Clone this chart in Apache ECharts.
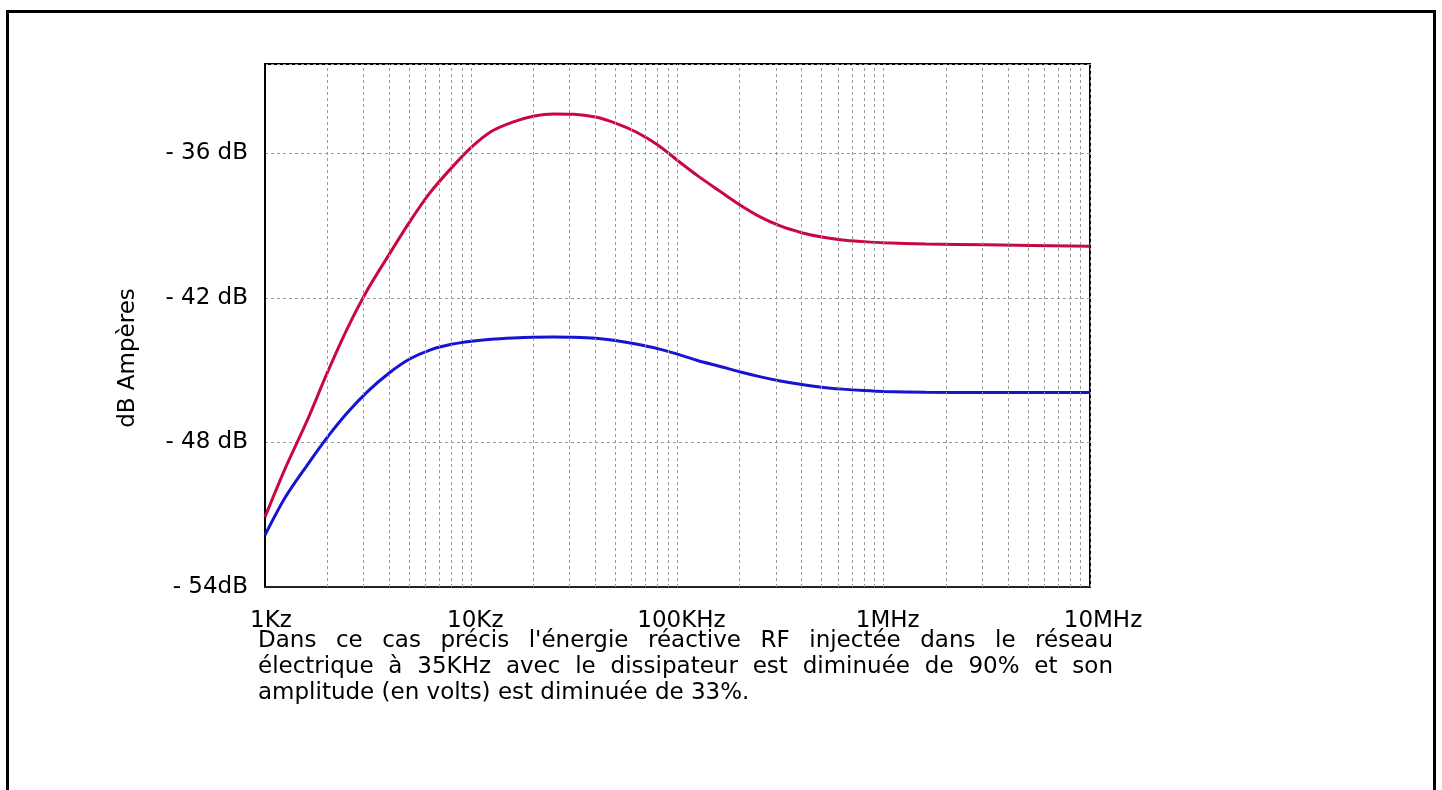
<!DOCTYPE html>
<html>
<head>
<meta charset="utf-8">
<script src="https://cdn.jsdelivr.net/npm/echarts@6/dist/echarts.min.js"></script>
<style>
  html, body { margin: 0; padding: 0; background: #fff; }
  #wrap { position: relative; width: 1442px; height: 790px; overflow: hidden; }
  #chart { position: absolute; left: 0; top: 0; width: 1442px; height: 790px; }
  #caption { position: absolute; left: 258px; top: 626px; width: 855px;
    font-family: 'DejaVu Sans', sans-serif; font-size: 23px; line-height: 26px; color: #000; }
  #caption .j { text-align: justify; text-align-last: justify; white-space: nowrap; }
  #caption .l { text-align: left; white-space: nowrap; }
</style>
</head>
<body>
<div id="wrap">
  <div id="chart"></div>
  <div id="caption"></div>
</div>
<script>
// ---- data ----
const xLabels = ['1Kz', '10Kz', '100KHz', '1MHz', '10MHz'];
const yTickValues = [-54, -48, -42, -36];
const yTickLabels = ['- 54dB', '- 48 dB', '- 42 dB', '- 36 dB'];
const yAxisTitle = 'dB Ampères';
const captionLines = [
  "Dans ce cas précis l'énergie réactive RF injectée dans le réseau",
  "électrique à 35KHz avec le dissipateur est diminuée de 90% et son",
  "amplitude (en volts) est diminuée de 33%."
];

// frequencies (Hz) at which the curves were read
const freqHz = [1000, 1250, 1600, 2000, 2500, 3150, 4000, 5000, 6300, 8000,
  10000, 12500, 16000, 20000, 25000, 31500, 40000, 50000, 63000, 80000,
  100000, 125000, 160000, 200000, 250000, 315000, 400000, 500000, 630000, 800000,
  1000000, 1600000, 3150000, 10000000];
// upper (crimson) curve, dB
const redDb = [-51.1, -49.1, -47.1, -45.13, -43.3, -41.65, -40.2, -38.88, -37.65, -36.62,
  -35.76, -35.1, -34.7, -34.47, -34.37, -34.38, -34.5, -34.75, -35.12, -35.65,
  -36.3, -36.93, -37.57, -38.14, -38.63, -39.02, -39.3, -39.48, -39.6, -39.67,
  -39.72, -39.77, -39.8, -39.86];
// lower (blue) curve, dB
const blueDb = [-51.85, -50.3, -48.95, -47.8, -46.78, -45.88, -45.12, -44.55, -44.17, -43.93,
  -43.8, -43.72, -43.67, -43.64, -43.63, -43.64, -43.68, -43.77, -43.92, -44.11,
  -44.34, -44.6, -44.84, -45.07, -45.27, -45.45, -45.6, -45.71, -45.79, -45.85,
  -45.89, -45.92, -45.93, -45.93];

// vertical grid lines of the log axis (2..10 in each decade)
const gridFreqs = [];
[1e3, 1e4, 1e5, 1e6].forEach(function (d) {
  for (let m = 2; m <= 10; m++) gridFreqs.push(d * m);
});

// ---- caption ----
const cap = document.getElementById('caption');
captionLines.forEach(function (t, i) {
  const d = document.createElement('div');
  d.className = i < captionLines.length - 1 ? 'j' : 'l';
  d.textContent = t;
  cap.appendChild(d);
});

// ---- chart ----
const FONT = 'DejaVu Sans';
const chart = echarts.init(document.getElementById('chart'), null, { renderer: 'canvas' });
const labelPad = { a: 12, b: 8, c: 26 };

chart.setOption({
  backgroundColor: '#fff',
  animation: false,
  grid: {
    left: 265, top: 64, right: 352, bottom: 203,
    show: true, borderColor: '#000', borderWidth: 2, backgroundColor: 'transparent'
  },
  xAxis: {
    type: 'log', logBase: 10, min: 1000, max: 10000000, splitNumber: 4,
    axisLine: { show: true, lineStyle: { color: '#222', width: 2 } },
    axisTick: { show: false },
    splitLine: { show: false },
    axisLabel: {
      margin: 23,
      fontFamily: FONT, fontSize: 23, color: '#000',
      formatter: function (v) {
        const i = Math.round(Math.log10(v)) - 3;
        const t = xLabels[i];
        if (t === undefined) return '';
        const k = i === 0 ? 'a' : (i === xLabels.length - 1 ? 'c' : 'b');
        return '{' + k + '|' + t + '}';
      },
      rich: {
        a: { fontFamily: FONT, fontSize: 23, color: '#000', padding: [0, 0, 0, labelPad.a] },
        b: { fontFamily: FONT, fontSize: 23, color: '#000', padding: [0, 0, 0, labelPad.b] },
        c: { fontFamily: FONT, fontSize: 23, color: '#000', padding: [0, 0, 0, labelPad.c] }
      }
    }
  },
  yAxis: {
    type: 'value', min: -54, max: -32.3, interval: 6,
    axisLine: { show: true, lineStyle: { color: '#000', width: 2 } },
    axisTick: { show: false },
    splitLine: { show: true, lineStyle: { color: '#9a9a9a', width: 1, type: [3, 3] } },
    axisLabel: {
      margin: 17,
      fontFamily: FONT, fontSize: 23, color: '#000',
      formatter: function (v) {
        const i = yTickValues.indexOf(Math.round(v * 100) / 100);
        return i >= 0 ? yTickLabels[i] : '';
      }
    }
  },
  graphic: [
    {
      type: 'rect', silent: true,
      shape: { x: 7.5, y: 11.5, width: 1427, height: 820 },
      style: { fill: 'none', stroke: '#000', lineWidth: 3 }
    },
    {
      type: 'text', silent: true,
      x: 128, y: 358, rotation: Math.PI / 2,
      style: {
        text: yAxisTitle, fontFamily: FONT, fontSize: 23, fill: '#000',
        align: 'center', verticalAlign: 'middle'
      }
    }
  ],
  series: [
    {
      name: 'grid', type: 'line', data: [], z: 1, silent: true,
      markLine: {
        silent: true, symbol: ['none', 'none'], animation: false,
        label: { show: false },
        lineStyle: { color: '#9a9a9a', width: 1, type: [3, 3] },
        data: gridFreqs.map(function (f) { return { xAxis: f }; })
      }
    },
    {
      name: 'sans dissipateur', type: 'line', z: 3,
      data: freqHz.map(function (f, i) { return [f, redDb[i]]; }),
      showSymbol: false, smooth: 0.3,
      lineStyle: { color: '#c8083f', width: 3 },
      itemStyle: { color: '#c8083f' }
    },
    {
      name: 'avec dissipateur', type: 'line', z: 3,
      data: freqHz.map(function (f, i) { return [f, blueDb[i]]; }),
      showSymbol: false, smooth: 0.3,
      lineStyle: { color: '#1414d2', width: 3 },
      itemStyle: { color: '#1414d2' }
    }
  ]
});
</script>
</body>
</html>
